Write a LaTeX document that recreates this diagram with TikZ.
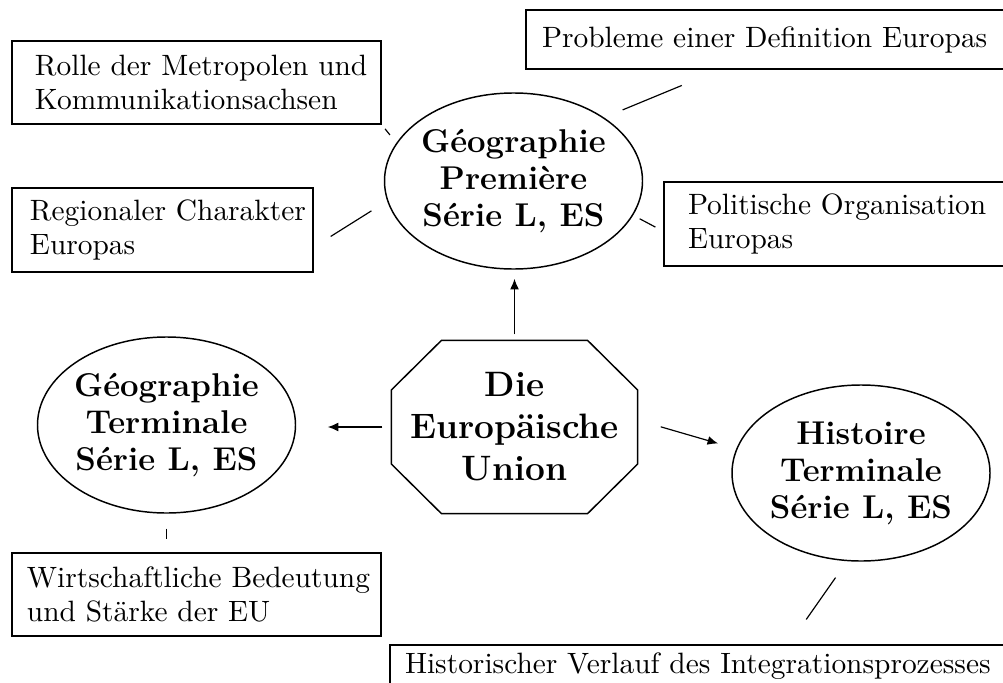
\documentclass[tikz,border=0pt]{standalone}
\usetikzlibrary{calc,arrows.meta,shapes.geometric}
\begin{document}
\begin{tikzpicture}[x=0.34pt,y=-0.34pt,
  box/.style={draw,line width=0.5pt,rectangle,align=left,inner ysep=0pt,font=\fontsize{10}{11.8}\selectfont},
  ell/.style={draw,line width=0.5pt,ellipse,align=center,inner xsep=-1pt,inner ysep=0pt,minimum width=87.72pt,minimum height=59.84pt,font=\fontsize{11.2}{12.6}\selectfont\bfseries},
  octa/.style={line width=0.5pt},
  conn/.style={line width=0.4pt},
  arr/.style={line width=0.4pt,-{Latex[length=3.6pt,width=3pt]}}]
\useasboundingbox (0,0) rectangle (1003,682);
\clip (0,0) rectangle (1003,682);

% boxes
\node[box,text width=109.82pt,inner xsep=7.82pt,minimum height=28.22pt] (rolle) at (196.5,82.5) {\mbox{Rolle der Metropolen und}\\Kommunikationsachsen};
\node[box,text width=90.1pt,inner xsep=6.12pt,minimum height=28.56pt] (reg) at (162.5,230) {\mbox{Regionaler Charakter}\\Europas};
\node[box,text width=153pt,inner xsep=5.44pt,minimum height=20.06pt] (prob) at (767,39.5) {\mbox{Probleme einer Definition Europas}};
\node[box,text width=100.64pt,inner xsep=8.16pt,minimum height=28.56pt] (pol) at (836,224) {\mbox{Politische Organisation}\\Europas};
\node[box,text width=115.26pt,inner xsep=5.1pt,minimum height=28.22pt] (wirt) at (196.5,594.5) {\mbox{Wirtschaftliche Bedeutung}\\\mbox{und Stärke der EU}};
\node[box,text width=199.92pt,inner xsep=5.1pt,minimum height=14.28pt] (hist) at (699,666) {\mbox{Historischer Verlauf des Integrationsprozesses}};

% ellipses
\node[ell] (gp) at (513.5,181) {Géographie\\Première\\Série L, ES};
\node[ell] (gt) at (166.5,425) {Géographie\\Terminale\\Série L, ES};
\node[ell] (ht) at (861,473) {Histoire\\Terminale\\Série L, ES};

% octagon
\node[inner sep=0pt,minimum width=83.3pt,minimum height=58.48pt,align=center,font=\fontsize{12}{14.3}\selectfont\bfseries] (eu) at (514.5,427) {Die\\Europäische\\Union};
\draw[octa] ($(eu.north west)+(50,0)$) -- ($(eu.north east)+(-50,0)$) -- ($(eu.north east)+(0,49.5)$) -- ($(eu.south east)+(0,-49.5)$) -- ($(eu.south east)+(-50,0)$) -- ($(eu.south west)+(50,0)$) -- ($(eu.south west)+(0,-49.5)$) -- ($(eu.north west)+(0,49.5)$) -- cycle;

% arrows
\draw[arr,shorten <=2.04pt,shorten >=3.06pt] (eu.north) -- (eu.north |- gp.south);
\draw[arr,shorten <=3.06pt,shorten >=10.7pt] (eu.west) -- (eu.west -| gt.east);
\draw[arr,shorten <=8.2pt,shorten >=6.4pt] ($(eu.east)!0.08!(eu.north east)$) -- (ht.169);

% plain connectors
\draw[conn,shorten <=1.8pt,shorten >=3.5pt] (rolle.south east) -- (gp.162);
\draw[conn,shorten <=6.8pt,shorten >=6.3pt] ($(reg.east)!0.4!(reg.south east)$) -- (gp.189);
\draw[conn,shorten <=14pt,shorten >=6.8pt] ($(prob.south west)!0.4025!(prob.south east)$) -- (gp.35);
\draw[conn,shorten <=3.05pt,shorten >=2.5pt] ($(pol.west)!0.17!(pol.south west)$) -- (gp.344);
\draw[conn,shorten <=5.1pt,shorten >=4.42pt] (gt.south) -- (gt.south |- wirt.north);
\draw[conn,shorten <=6.8pt,shorten >=10.3pt] (ht.261) -- ($(hist.north west)!0.645!(hist.north east)$);
\end{tikzpicture}
\end{document}
